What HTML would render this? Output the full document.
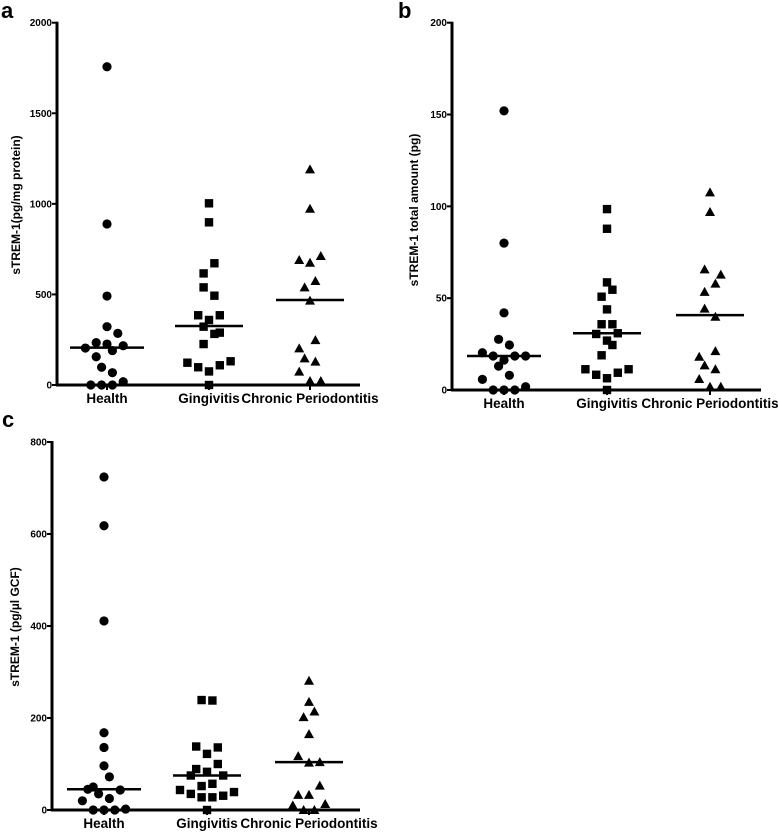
<!DOCTYPE html>
<html><head><meta charset="utf-8"><style>
html,body{margin:0;padding:0;background:#fff;width:778px;height:832px;overflow:hidden}
svg{display:block;font-family:"Liberation Sans",Arial,sans-serif}
</style></head><body>
<svg id="fig" width="778" height="832" viewBox="0 0 778 832" xmlns="http://www.w3.org/2000/svg"></svg>
<script>
const categories = ["Health","Gingivitis","Chronic Periodontitis"];
// Panel a values (pg/mg protein)
const aHealth = [1757,889,491,322,285,234,226,204,217,190,156,98,68,18,0,0,0];
const aGing = [1003,898,672,616,539,493,385,385,359,322,289,282,226,131,123,98,109,75,0];
const aCP = [1190,973,712,690,675,574,539,466,248,202,147,129,74,22,22];
const aMedians = [206,326,469];
const aTicks = [0,500,1000,1500,2000];
const aHealthJit = [0,0,0,0,2,-2,0,-4,3,1,-2,-1,1,3,-3,-1,1];
const aGingJit = [0,0,1,-1,-1,1,-2,2,0,-1,2,1,-1,4,-4,-2,2,0,0];
const aCPJit = [0,0,2,-2,0,1,-1,0,1,-2,-1,1,-2,0,2];
// Panel b values (pg)
const bHealth = [152,80,42,27.6,24.5,20.3,18.5,16.3,18.5,18.5,13,8,5.8,0,0,0,1.8];
const bGing = [98.5,87.8,58.6,54.6,50.8,43.9,35.8,35.8,30.5,30.9,26.9,24.5,18.9,11.3,8.3,6.4,9.4,11.3,0];
const bCP = [107.6,96.9,65.7,62.8,57.9,53.4,44.3,39.9,21.2,18.1,13.4,11.3,6,1.8,1.8];
const bMedians = [18.5,30.9,40.8];
const bTicks = [0,50,100,150,200];
const bHealthJit = [0,0,0,-1,1,-4,-2,0,2,4,-1,1,-4,-2,0,2,4];
const bGingJit = [0,0,0,1,-1,0,-1,1,-2,2,0,1,-1,-4,-2,0,2,4,0];
const bCPJit = [0,0,-1,2,1,-1,-1,1,1,-2,-1,1,-2,0,2];
// Panel c values (pg/µl GCF)
const cHealth = [724,618,411,168,136,96,72,50,45,43.5,35,25,20,0,0,0,2];
const cGing = [239,238,138,136,122,100,89,83,75,75,57,52,43.5,35,39,31,27.6,27.6,0];
const cCP = [281,235,214,202,165,117,103,104,53,33,33,10,13,0,0];
const cMedians = [45,75,104];
const cTicks = [0,200,400,600,800];
const cHealthJit = [0,0,0,0,0,0,1,-2,-3,3,-1,1,-4,-2,0,2,4];
const cGingJit = [-1,1,-2,2,0,2,-2,0,-3,3,1,-1,-5,-3,5,3,-1,1,0];
const cCPJit = [0,0,1,-1,0,-2,0,2,2,-2,0,-3,3,-1,1];

const NS="http://www.w3.org/2000/svg";
const svg=document.getElementById('fig');
function mk(tag,attrs,parent){const e=document.createElementNS(NS,tag);for(const k in attrs)e.setAttribute(k,attrs[k]);(parent||svg).appendChild(e);return e;}

function panel(cfg){
  const g=mk('g',{});
  
  
  const y=v=>cfg.y0-(v/cfg.max)*(cfg.y0-cfg.yTop);
  const x=i=>cfg.cx[i];
  const L=mk('text',{x:cfg.letterX,y:cfg.letterY,'font-size':22,'font-weight':'bold'},g);L.textContent=cfg.letter;
  
  
  const ax=mk('line',{x1:cfg.ax,y1:cfg.yTop-1,x2:cfg.ax,y2:cfg.y0+1,stroke:'#000','stroke-width':3},g);
  
  
  const xx=mk('line',{x1:cfg.ax-1,y1:cfg.y0,x2:cfg.xEnd,y2:cfg.y0,stroke:'#000','stroke-width':3},g);
  
  
  cfg.ticks.forEach(t=>{
    mk('line',{x1:cfg.ax-5,y1:y(t),x2:cfg.ax,y2:y(t),stroke:'#000','stroke-width':2},g);
    const tl=mk('text',{x:cfg.ax-5,y:y(t)+3.5,'font-size':10,'font-weight':'bold','text-anchor':'end'},g);
    tl.textContent=t;
    
    
  });
  categories.forEach((c,i)=>{
    mk('line',{x1:x(i),y1:cfg.y0,x2:x(i),y2:cfg.y0+5,stroke:'#000','stroke-width':2},g);
    const t=mk('text',{x:x(i),y:cfg.y0+18,'font-size':13.5,'font-weight':'bold','text-anchor':'middle'},g);
    t.textContent=c;
    
    
  });
  const yt=mk('text',{x:0,y:0,'font-size':12,'font-weight':'bold','text-anchor':'middle',transform:`translate(${cfg.titleX},${cfg.titleY}) rotate(-90)`},g);
  yt.textContent=cfg.title;
  
  
  const slot=5.4;
  cfg.series.forEach((vals,i)=>{
    const jit=cfg.jit[i];
    vals.forEach((v,k)=>{
      const px=x(i)+jit[k]*slot, py=y(v);
      let m;
      if(i===0) m=mk('circle',{cx:px,cy:py,r:4.6,fill:'#000'},g);
      else if(i===1) m=mk('rect',{x:px-4.2,y:py-4.2,width:8.4,height:8.4,fill:'#000'},g);
      else m=mk('polygon',{points:`${px},${py-5} ${px-5},${py+4} ${px+5},${py+4}`,fill:'#000'},g);
      
      
    });
    const hw=i===0?37:34;
    const md=mk('line',{x1:x(i)-hw,y1:y(cfg.medians[i]),x2:x(i)+hw,y2:y(cfg.medians[i]),stroke:'#000','stroke-width':2.5},g);
    
    
  });
}
panel({letter:'a',letterX:1,letterY:18,ax:57,xEnd:360,y0:385,yTop:22.7,max:2000,cx:[107,209,310],ticks:aTicks,
  title:'sTREM-1(pg/mg protein)',titleX:20,titleY:205,series:[aHealth,aGing,aCP],jit:[aHealthJit,aGingJit,aCPJit],medians:aMedians});
panel({letter:'b',letterX:398,letterY:18,ax:452,xEnd:761,y0:390,yTop:22.7,max:200,cx:[504,607,710],ticks:bTicks,
  title:'sTREM-1 total amount (pg)',titleX:418,titleY:210,series:[bHealth,bGing,bCP],jit:[bHealthJit,bGingJit,bCPJit],medians:bMedians});
panel({letter:'c',letterX:2,letterY:427,ax:52,xEnd:360,y0:810,yTop:442,max:800,cx:[104,207,309],ticks:cTicks,
  title:'sTREM-1 (pg/\u00b5l GCF)',titleX:19,titleY:627,series:[cHealth,cGing,cCP],jit:[cHealthJit,cGingJit,cCPJit],medians:cMedians});
</script>
</body></html>
